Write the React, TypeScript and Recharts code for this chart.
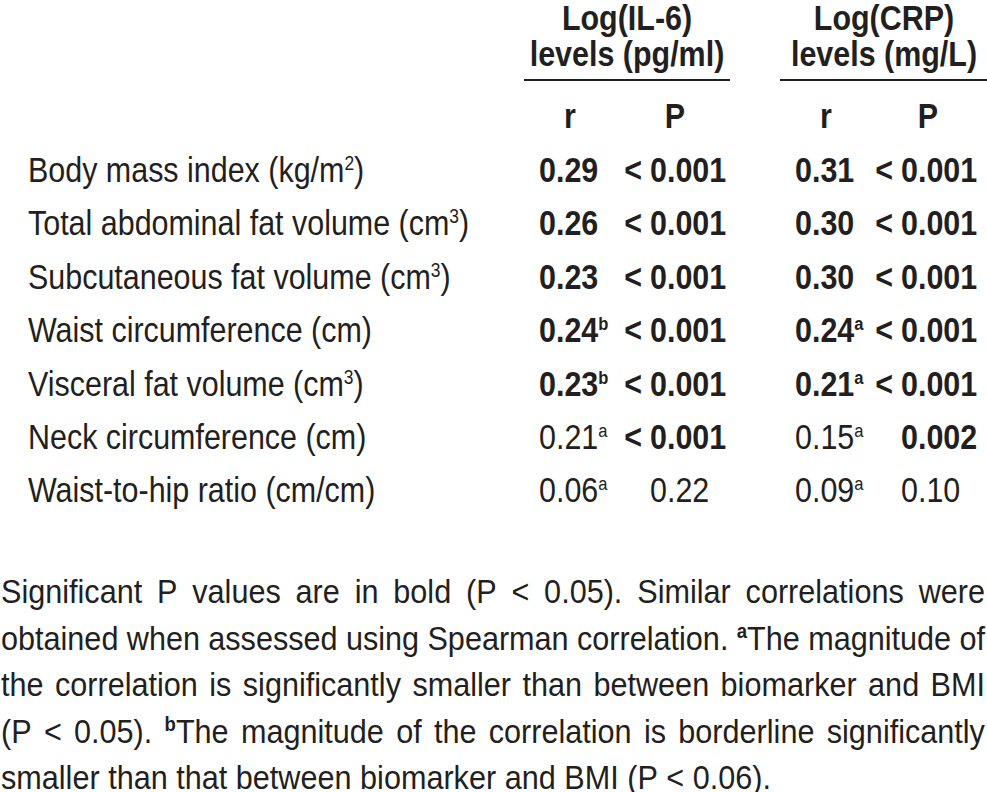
import React from 'react';
import { ScatterChart, Scatter, XAxis, YAxis, Customized } from 'recharts';

// ---------- data ----------
const measures = [
  'Body mass index (kg/m{2})',
  'Total abdominal fat volume (cm{3})',
  'Subcutaneous fat volume (cm{3})',
  'Waist circumference (cm)',
  'Visceral fat volume (cm{3})',
  'Neck circumference (cm)',
  'Waist-to-hip ratio (cm/cm)',
];
const il6R = [0.29, 0.26, 0.23, 0.24, 0.23, 0.21, 0.06];
const il6RNote = ['', '', '', 'b', 'b', 'a', 'a'];
const il6P = ['< 0.001', '< 0.001', '< 0.001', '< 0.001', '< 0.001', '< 0.001', '0.22'];
const crpR = [0.31, 0.3, 0.3, 0.24, 0.21, 0.15, 0.09];
const crpRNote = ['', '', '', 'a', 'a', 'a', 'a'];
const crpP = ['< 0.001', '< 0.001', '< 0.001', '< 0.001', '< 0.001', '0.002', '0.10'];
const rBold = [true, true, true, true, true, false, false];
const groupTitles = [
  ['Log(IL-6)', 'levels (pg/ml)'],
  ['Log(CRP)', 'levels (mg/L)'],
];
const statHeaders = ['r', 'P'];
const footnoteLines = [
  'Significant P values are in bold (P < 0.05). Similar correlations were',
  'obtained when assessed using Spearman correlation. {a}The magnitude of',
  'the correlation is significantly smaller than between biomarker and BMI',
  '(P < 0.05). {b}The magnitude of the correlation is borderline significantly',
  'smaller than that between biomarker and BMI (P < 0.06).',
];

// ---------- layout / style ----------
const W = 987;
const H = 792;
const FONT = "'Liberation Sans', Arial, Helvetica, sans-serif";
const INK = '#231f20';
const FS = 35;
const SX = 0.87;
const SUP_FS = 20;
const SUP_RAISE = 12;
const ROW_STEP = 53.4;
const FIRST_BASELINE = 182;
const BASE_OFF = 12.5;
const TOP = FIRST_BASELINE - BASE_OFF - ROW_STEP / 2;
const BOTTOM = H - (TOP + ROW_STEP * measures.length);
const LABEL_X = 28;
const COL_X: Record<string, number> = { il6R: 539, il6P: 650, crpR: 795, crpP: 901 };
const GROUPS = [
  { center: 627, x1: 524, x2: 730, r: 570, p: 675 },
  { center: 884, x1: 780, x2: 987, r: 826, p: 928 },
];
const FOOT_FS = 33;
const FOOT_FIRST = 603;
const FOOT_STEP = 46.5;
const FOOT_LAST_WIDTH = 770;
const FOOT_RIGHT = 985;

const isSig = (p: string) => (p.trim().startsWith('<') ? true : parseFloat(p) < 0.05);

const rows = measures.map((m, i) => ({
  row: i,
  label: m,
  il6R: il6R[i].toFixed(2),
  il6RNote: il6RNote[i],
  il6P: il6P[i],
  crpR: crpR[i].toFixed(2),
  crpRNote: crpRNote[i],
  crpP: crpP[i],
  rBold: rBold[i],
}));

const colData = (col: string) => rows.map((r) => ({ ...r, x: col === 'label' ? LABEL_X : COL_X[col] }));

type Seg = { t: string; sup: boolean };
// parse "text{sup}text"
const parseSegs = (s: string) => {
  const out: Seg[] = [];
  const re = /\{([^}]*)\}/g;
  let last = 0;
  let m: RegExpExecArray | null;
  while ((m = re.exec(s))) {
    if (m.index > last) out.push({ t: s.slice(last, m.index), sup: false });
    out.push({ t: m[1], sup: true });
    last = m.index + m[0].length;
  }
  if (last < s.length) out.push({ t: s.slice(last), sup: false });
  return out;
};

const renderSegs = (segs: Seg[], supFs: number, raise: number, supBold?: boolean) => {
  let state = false;
  return segs.map((s, i) => {
    let dy = 0;
    if (s.sup && !state) dy = -raise;
    if (!s.sup && state) dy = raise;
    state = s.sup;
    return (
      <tspan
        key={i}
        dy={dy || undefined}
        fontSize={s.sup ? supFs : undefined}
        fontWeight={s.sup && supBold ? 'bold' : undefined}
      >
        {s.t}
      </tspan>
    );
  });
};

// condensed text helper
const T = ({ x, y, sx = SX, anchor = 'start', children, ...rest }: any) => (
  <text transform={`translate(${x},${y}) scale(${sx},1)`} textAnchor={anchor} {...rest}>
    {children}
  </text>
);

// ---------- cell shapes ----------
const LabelShape = (props: any) => {
  const { cx, cy, payload } = props;
  if (cx == null || cy == null) return null;
  return (
    <T x={cx} y={cy + BASE_OFF} fontFamily={FONT} fontSize={FS} fill={INK}>
      {renderSegs(parseSegs(payload.label), SUP_FS, SUP_RAISE)}
    </T>
  );
};

const makeRShape = (valKey: string, noteKey: string) => (props: any) => {
  const { cx, cy, payload } = props;
  if (cx == null || cy == null) return null;
  const segs: Seg[] = [{ t: payload[valKey], sup: false }];
  if (payload[noteKey]) segs.push({ t: payload[noteKey], sup: true });
  return (
    <T
      x={cx}
      y={cy + BASE_OFF}
      fontFamily={FONT}
      fontSize={FS}
      fontWeight={payload.rBold ? 'bold' : 'normal'}
      fill={INK}
    >
      {renderSegs(segs, 19, 12)}
    </T>
  );
};

const makePShape = (valKey: string) => (props: any) => {
  const { cx, cy, payload } = props;
  if (cx == null || cy == null) return null;
  const v: string = payload[valKey];
  const bold = isSig(v);
  const hasLt = v.trim().startsWith('<');
  const num = v.replace('<', '').trim();
  return (
    <g fontFamily={FONT} fontSize={FS} fontWeight={bold ? 'bold' : 'normal'} fill={INK}>
      {hasLt && (
        <T x={cx - 8} y={cy + BASE_OFF} anchor="end">
          {'<'}
        </T>
      )}
      <T x={cx} y={cy + BASE_OFF}>
        {num}
      </T>
    </g>
  );
};

// ---------- header & footnote ----------
const Header = () => (
  <g fontFamily={FONT} fill={INK} fontWeight="bold" fontSize={FS}>
    {GROUPS.map((g, gi) => (
      <g key={gi}>
        <T x={g.center} y={30} anchor="middle">
          {groupTitles[gi][0]}
        </T>
        <T x={g.center} y={66} anchor="middle">
          {groupTitles[gi][1]}
        </T>
        <line x1={g.x1} x2={g.x2} y1={80} y2={80} stroke={INK} strokeWidth={2} />
        <T x={g.r} y={128} anchor="middle">
          {statHeaders[0]}
        </T>
        <T x={g.p} y={128} anchor="middle">
          {statHeaders[1]}
        </T>
      </g>
    ))}
  </g>
);

let _ctx: CanvasRenderingContext2D | null = null;
const measure = (t: string, size: number, bold = false) => {
  if (!_ctx) _ctx = document.createElement('canvas').getContext('2d');
  if (!_ctx) return t.length * size * 0.5;
  _ctx.font = `${bold ? 'bold ' : ''}${size}px ${FONT}`;
  return _ctx.measureText(t).width;
};

const wordsOf = (line: string) => line.split(' ').map((w) => parseSegs(w));
const wordWidth = (segs: Seg[]) =>
  segs.reduce((a, s) => a + measure(s.t, s.sup ? 20 : FOOT_FS, s.sup), 0);

const Footnote = () => {
  const lastWords = wordsOf(footnoteLines[footnoteLines.length - 1]);
  const space = measure(' ', FOOT_FS);
  const natLast =
    lastWords.reduce((a, w) => a + wordWidth(w), 0) + space * (lastWords.length - 1);
  const sx = FOOT_LAST_WIDTH / natLast;
  return (
    <g fontFamily={FONT} fill={INK} fontSize={FOOT_FS}>
      {footnoteLines.map((line, li) => {
        const words = wordsOf(line);
        const widths = words.map((w) => wordWidth(w) * sx);
        const total = widths.reduce((a, b) => a + b, 0);
        const justify = li < footnoteLines.length - 1;
        const gap = justify ? (FOOT_RIGHT - 1 - total) / (words.length - 1) : space * sx;
        let x = 1;
        const y = FOOT_FIRST + li * FOOT_STEP;
        return (
          <g key={li}>
            {words.map((w, wi) => {
              const px = x;
              x += widths[wi] + gap;
              return (
                <T key={wi} x={px} y={y} sx={sx}>
                  {renderSegs(w, 20, 12, true)}
                </T>
              );
            })}
          </g>
        );
      })}
    </g>
  );
};

export default function App() {
  return (
    <div style={{ position: 'absolute', left: 0, top: 0, width: W, height: H, background: '#fff' }}>
      <ScatterChart width={W} height={H} margin={{ top: TOP, right: 0, bottom: BOTTOM, left: 0 }}>
        <XAxis type="number" dataKey="x" domain={[0, W]} hide allowDataOverflow />
        <YAxis type="number" dataKey="row" domain={[-0.5, measures.length - 0.5]} reversed hide allowDataOverflow />
        <Scatter data={colData('label')} shape={LabelShape} isAnimationActive={false} />
        <Scatter data={colData('il6R')} shape={makeRShape('il6R', 'il6RNote')} isAnimationActive={false} />
        <Scatter data={colData('il6P')} shape={makePShape('il6P')} isAnimationActive={false} />
        <Scatter data={colData('crpR')} shape={makeRShape('crpR', 'crpRNote')} isAnimationActive={false} />
        <Scatter data={colData('crpP')} shape={makePShape('crpP')} isAnimationActive={false} />
        <Customized component={Header} />
        <Customized component={Footnote} />
      </ScatterChart>
    </div>
  );
}
